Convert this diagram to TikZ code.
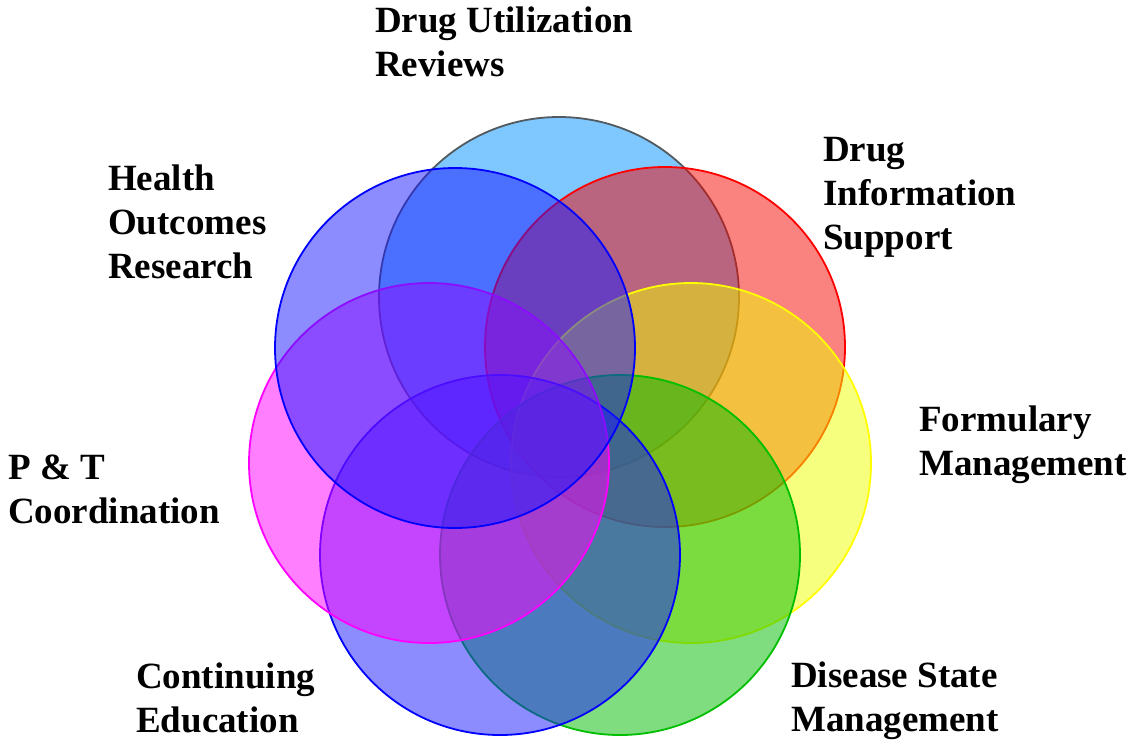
\documentclass[tikz,border=0pt]{standalone}
\usepackage{fontspec}
\setmainfont{Liberation Serif}
\definecolor{skyfill}{RGB}{0,145,255}
\definecolor{skyline}{RGB}{80,90,95}
\definecolor{redfill}{RGB}{245,5,0}
\definecolor{redline}{RGB}{255,0,0}
\definecolor{yelfill}{RGB}{240,255,0}
\definecolor{yelline}{RGB}{255,255,0}
\definecolor{grnfill}{RGB}{0,185,0}
\definecolor{grnline}{RGB}{0,190,0}
\definecolor{bluefill}{RGB}{25,25,255}
\definecolor{blueline}{RGB}{0,0,255}
\definecolor{magfill}{RGB}{255,0,255}
\definecolor{magline}{RGB}{255,0,255}
\begin{document}
\begin{tikzpicture}[x=1pt,y=-1pt,
  ring/.style={line width=1.8pt, fill opacity=0.5},
  lbl/.style={anchor=base west, inner sep=0pt,
    font=\fontsize{37}{44.4}\selectfont\bfseries}]
\useasboundingbox (0,0) rectangle (1131,740);
% seven overlapping service areas, drawn back to front
\path[ring, draw=skyline, fill=skyfill] (559,297) circle [radius=180pt];
\path[ring, draw=redline, fill=redfill] (665,347) circle [radius=180pt];
\path[ring, draw=yelline, fill=yelfill] (691,463) circle [radius=180pt];
\path[ring, draw=grnline, fill=grnfill] (620,555) circle [radius=180pt];
\path[ring, draw=blueline, fill=bluefill] (500,555) circle [radius=180pt];
\path[ring, draw=magline, fill=magfill] (429,463) circle [radius=180pt];
\path[ring, draw=blueline, fill=bluefill] (455,348) circle [radius=180pt];
% labels
\node[lbl] (dur) at (375,32) {\begin{tabular}[t]{@{}l@{}}Drug Utilization\\Reviews\end{tabular}};
\node[lbl] (dis) at (823,161) {\begin{tabular}[t]{@{}l@{}}Drug\\Information\\Support\end{tabular}};
\node[lbl] (hor) at (108,190) {\begin{tabular}[t]{@{}l@{}}Health\\Outcomes\\Research\end{tabular}};
\node[lbl] (fm) at (919,431) {\begin{tabular}[t]{@{}l@{}}Formulary\\Management\end{tabular}};
\node[lbl] (pt) at (8,479) {\begin{tabular}[t]{@{}l@{}}P \& T\\Coordination\end{tabular}};
\node[lbl] (ce) at (136,688) {\begin{tabular}[t]{@{}l@{}}Continuing\\Education\end{tabular}};
\node[lbl] (dsm) at (791,687) {\begin{tabular}[t]{@{}l@{}}Disease State\\Management\end{tabular}};
\end{tikzpicture}
\end{document}
